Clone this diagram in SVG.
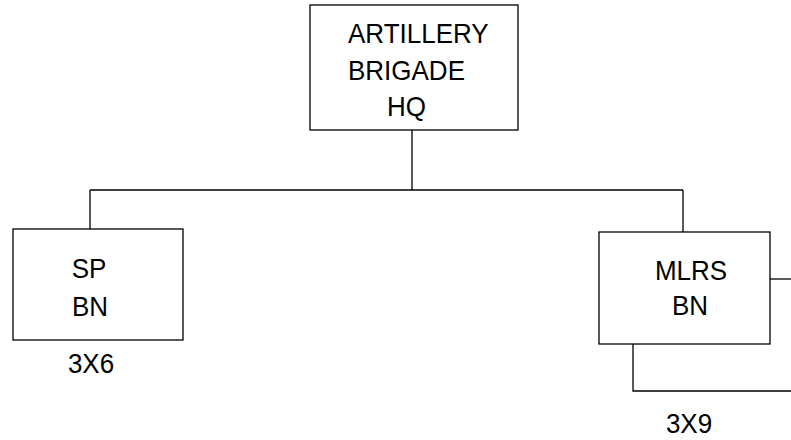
<svg xmlns="http://www.w3.org/2000/svg" width="791" height="440" viewBox="0 0 791 440">
<style>
.box{fill:#fff;stroke:#000;stroke-width:1.3}
.ln{fill:none;stroke:#000;stroke-width:1.3}
text{font-family:"Liberation Sans",Arial,sans-serif;font-size:26px;fill:#000}
.c{text-anchor:middle}
</style>
<rect width="791" height="440" fill="#fff"/>
<g id="connectors">
<path class="ln" d="M412 130V190M90 190H683M90 190V229M683 190V232"/>
<path class="ln" d="M770 279H791"/>
<path class="ln" d="M633 344V391H791"/>
</g>
<g id="hq">
<rect class="box" x="310" y="5" width="208" height="125"/>
<text transform="translate(348 43) scale(1 1.08)">ARTILLERY</text>
<text transform="translate(348 80) scale(1 1.08)">BRIGADE</text>
<text transform="translate(387 116) scale(1 1.08)">HQ</text>
</g>
<g id="sp">
<rect class="box" x="13" y="229" width="170" height="111"/>
<text class="c" transform="translate(89 278) scale(1 1.08)">SP</text>
<text class="c" transform="translate(90 316) scale(1 1.08)">BN</text>
</g>
<text id="sp-label" class="c" transform="translate(91 373) scale(1 1.08)">3X6</text>
<g id="mlrs">
<rect class="box" x="599" y="232" width="171" height="112"/>
<text class="c" transform="translate(691 280) scale(1 1.08)">MLRS</text>
<text class="c" transform="translate(690 315) scale(1 1.08)">BN</text>
</g>
<text id="mlrs-label" class="c" transform="translate(689 433) scale(1 1.08)">3X9</text>
</svg>
